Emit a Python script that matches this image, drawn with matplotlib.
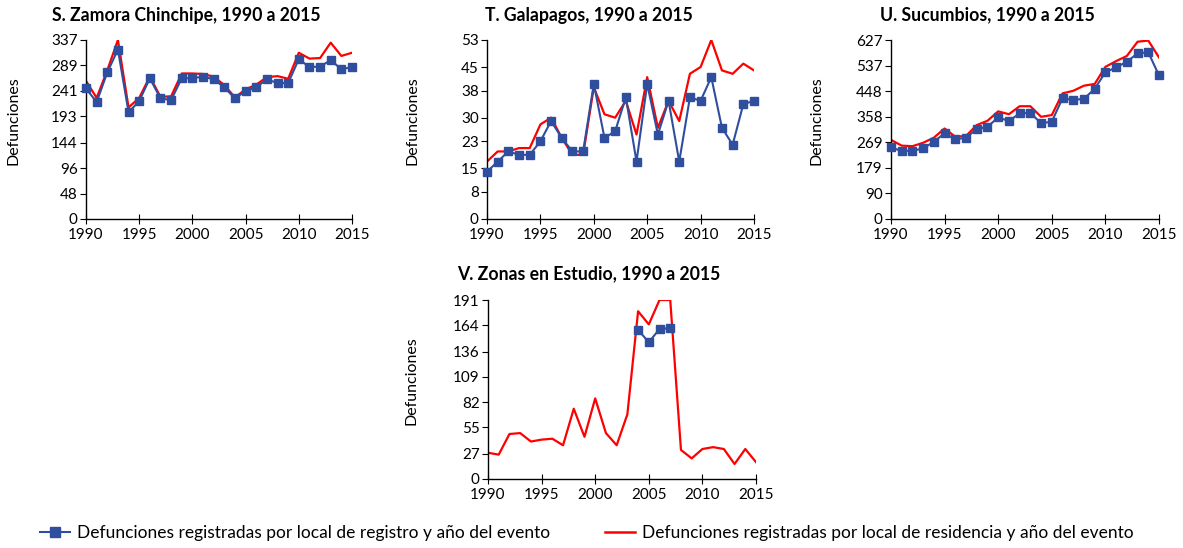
import numpy as np
import matplotlib.pyplot as plt
from matplotlib.lines import Line2D

plt.rcParams['font.family'] = ['Lato', 'DejaVu Sans']

years = list(range(1990, 2016))

# S. Zamora Chinchipe
zam_reg = [246, 220, 276, 319, 201, 222, 265, 227, 224, 265, 265, 268, 263, 248, 227,
           241, 248, 263, 256, 256, 301, 286, 287, 299, 282, 286]
zam_res = [260, 228, 280, 337, 210, 228, 268, 230, 231, 274, 274, 273, 268, 252, 229,
           244, 253, 267, 269, 264, 313, 302, 303, 332, 307, 313]

# T. Galapagos
gal_reg = [14, 17, 20, 19, 19, 23, 29, 24, 20, 20, 40, 24, 26, 36, 17, 40, 25, 35, 17,
           36, 35, 42, 27, 22, 34, 35]
gal_res = [17, 20, 20, 21, 21, 28, 30, 24, 19, 19, 39, 31, 30, 35, 25, 42, 27, 35, 29,
           43, 45, 53, 44, 43, 46, 44]

# U. Sucumbios
suc_reg = [251, 238, 239, 247, 271, 300, 279, 285, 315, 323, 356, 343, 370, 372, 335,
           341, 423, 417, 421, 456, 514, 531, 551, 580, 584, 503]
suc_res = [277, 257, 255, 267, 285, 317, 288, 291, 329, 344, 377, 367, 395, 395, 358,
           364, 440, 449, 467, 473, 533, 553, 571, 621, 625, 566]

# V. Zonas en Estudio
zon_reg = [np.nan] * 14 + [159, 146, 160, 161] + [np.nan] * 8
zon_res = [28, 26, 48, 49, 40, 42, 43, 36, 75, 45, 86, 49, 36, 69, 179, 165, 191, 191,
           31, 22, 32, 34, 32, 16, 32, 18]

panels = [
    ("S. Zamora Chinchipe, 1990 a 2015", zam_reg, zam_res, 337,
     [0, 48, 96, 144, 193, 241, 289, 337]),
    ("T. Galapagos, 1990 a 2015", gal_reg, gal_res, 53,
     [0, 8, 15, 23, 30, 38, 45, 53]),
    ("U. Sucumbios, 1990 a 2015", suc_reg, suc_res, 627,
     [0, 90, 179, 269, 358, 448, 537, 627]),
    ("V. Zonas en Estudio, 1990 a 2015", zon_reg, zon_res, 191,
     [0, 27, 55, 82, 109, 136, 164, 191]),
]

W, H = 1183, 548
fig = plt.figure(figsize=(W / 100, H / 100), dpi=100)

# axes boxes in pixels: left, right, top, bottom
boxes = [(86, 352, 40, 219), (487, 754, 40, 219), (891, 1159, 40, 219),
         (488, 756, 300, 479)]
# y label x centre, title centre x / y (pixels)
ylab_x = [14, 412, 817, 412]
title_x = [186, 589, 987, 589]
title_y = [15, 15, 15, 274]
blue = '#2F4E9E'
red = '#FF0000'

for (title, reg, res, ymax, yt), (l, r, t, b), yx, tx, ty in zip(
        panels, boxes, ylab_x, title_x, title_y):
    ax = fig.add_axes([l / W, 1 - b / H, (r - l) / W, (b - t) / H])
    ax.plot(years, reg, color=blue, lw=1.5, marker='s', ms=5.5, zorder=3, clip_on=False)
    ax.plot(years, res, color=red, lw=1.6, zorder=2)
    ax.set_xlim(1990, 2015)
    ax.set_ylim(0, ymax)
    ax.set_yticks(yt)
    ax.set_xticks(range(1990, 2016, 5))
    for s in ['top', 'right']:
        ax.spines[s].set_visible(False)
    for s in ['left', 'bottom']:
        ax.spines[s].set_linewidth(1.0)
    ax.tick_params(axis='y', direction='out', length=4, labelsize=11, pad=2)
    ax.tick_params(axis='x', direction='inout', length=7, labelsize=11, pad=3)
    ax.set_ylabel('Defunciones', fontsize=11.5)
    ax.yaxis.set_label_coords((yx + 7 - l) / (r - l), 0.55)
    ax.text((tx - l) / (r - l), 1 + (t - ty) / (b - t), title, transform=ax.transAxes,
            ha='center', va='center', fontsize=12.7, fontweight='bold')

# legend
h1 = Line2D([], [], color=blue, lw=1.5, marker='s', ms=7)
h2 = Line2D([], [], color=red, lw=1.8)
fig.legend([h1, h2],
           ['Defunciones registradas por local de registro y año del evento',
            'Defunciones registradas por local de residencia y año del evento'],
           loc='center', bbox_to_anchor=(0.496, 1 - 533 / H), ncol=2, frameon=False,
           fontsize=12.5, handlelength=1.7, columnspacing=3.2, handletextpad=0.4)

fig.savefig('out.png', dpi=100)
